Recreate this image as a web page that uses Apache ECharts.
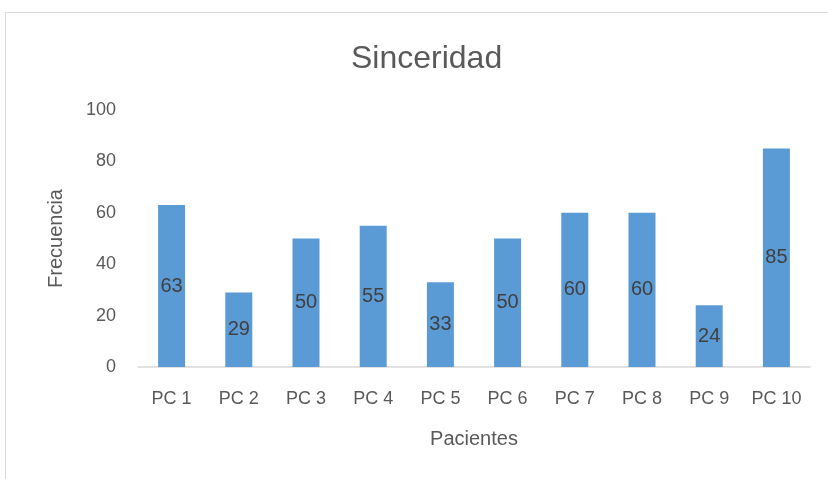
<!DOCTYPE html>
<html>
<head>
<meta charset="utf-8">
<script src="https://cdn.jsdelivr.net/npm/echarts@6/dist/echarts.min.js"></script>
<style>
  html, body { margin: 0; padding: 0; background: #fff; }
  #chart { width: 828px; height: 479px; }
</style>
</head>
<body>
<div id="chart"></div>
<script>
// datos
const categorias = ['PC 1', 'PC 2', 'PC 3', 'PC 4', 'PC 5', 'PC 6', 'PC 7', 'PC 8', 'PC 9', 'PC 10']
const frecuencia = [63, 29, 50, 55, 33, 50, 60, 60, 24, 85]
const yTicks = [0, 20, 40, 60, 80, 100]

const fuente = '"Liberation Sans", "Noto Sans", sans-serif'
const chart = echarts.init(document.getElementById('chart'))

const option = {
  animation: false,
  backgroundColor: '#fff',
  textStyle: { fontFamily: fuente },
  title: {
    text: 'Sinceridad',
    left: 346,
    top: 38,
    textStyle: { fontSize: 32, fontWeight: 'normal', color: '#595959', fontFamily: fuente }
  },
  // marco del área del gráfico
  graphic: [{
    type: 'polyline',
    shape: { points: [[5.5, 479], [5.5, 12.5], [828, 12.5]] },
    style: { stroke: '#d9d9d9', lineWidth: 1, fill: null },
    silent: true
  }],
  grid: { left: 138, right: 18, top: 110, bottom: 112 },
  xAxis: {
    type: 'category',
    data: categorias,
    name: 'Pacientes',
    nameLocation: 'middle',
    nameGap: 62,
    nameTextStyle: { fontSize: 20, color: '#595959' },
    axisLine: { lineStyle: { color: '#d9d9d9', width: 1.5 } },
    axisTick: { show: false },
    axisLabel: { fontSize: 18, color: '#595959', margin: 23 }
  },
  yAxis: {
    type: 'value',
    min: yTicks[0],
    max: yTicks[yTicks.length - 1],
    interval: 20,
    name: 'Frecuencia',
    nameLocation: 'middle',
    nameGap: 72,
    nameTextStyle: { fontSize: 20, color: '#595959' },
    axisLine: { show: false },
    axisTick: { show: false },
    splitLine: { show: false },
    axisLabel: { fontSize: 18, color: '#595959', margin: 22 }
  },
  series: [{
    type: 'bar',
    data: frecuencia,
    barWidth: 27,
    itemStyle: { color: '#5b9bd5' },
    label: {
      show: true,
      position: 'inside',
      fontSize: 20,
      color: '#404040'
    }
  }]
}
chart.setOption(option)
</script>
</body>
</html>
